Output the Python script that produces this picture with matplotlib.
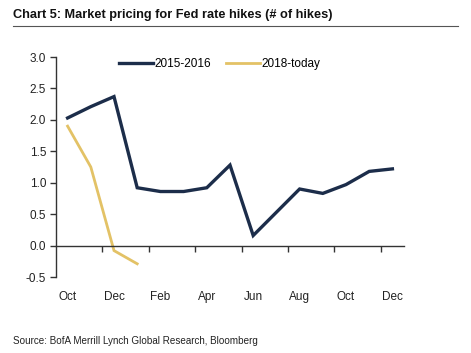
import matplotlib
matplotlib.use("Agg")
import matplotlib.pyplot as plt
import numpy as np

months = ["Oct", "Nov", "Dec", "Jan", "Feb", "Mar", "Apr", "May",
          "Jun", "Jul", "Aug", "Sep", "Oct", "Nov", "Dec"]
hikes_2015_2016 = [2.03, 2.21, 2.37, 0.92, 0.86, 0.86, 0.92, 1.28,
                   0.16, 0.53, 0.90, 0.83, 0.97, 1.18, 1.22]
hikes_2018_today = [1.90, 1.25, -0.08, -0.29]
yticks = [-0.5, 0.0, 0.5, 1.0, 1.5, 2.0, 2.5, 3.0]

plt.rcParams['font.family'] = ['Liberation Sans', 'DejaVu Sans']

navy = "#1c2d4a"
gold = "#e3c266"
axcol = "#333333"

fig = plt.figure(figsize=(4.71, 3.53), dpi=100)
ax = fig.add_axes([56/471, 1-277/353, (404-56)/471, (277-57)/353])

x = np.arange(len(months))
ax.plot(x, hikes_2015_2016, color=navy, lw=2.4, label="2015-2016",
        solid_joinstyle="miter")
ax.plot(x[:len(hikes_2018_today)], hikes_2018_today, color=gold, lw=2.0,
        label="2018-today", solid_joinstyle="miter")

ax.set_xlim(-0.5, len(months) - 0.5)
ax.set_ylim(-0.5, 3.0)
ax.set_yticks(yticks)
ax.set_yticklabels([f"{v:.1f}" for v in yticks])

for s in ["top", "right"]:
    ax.spines[s].set_visible(False)
ax.spines["left"].set_color(axcol)
ax.spines["left"].set_linewidth(1.0)
ax.spines["bottom"].set_position(("data", 0))
ax.spines["bottom"].set_color(axcol)
ax.spines["bottom"].set_linewidth(1.0)

ax.set_xticks(x[::2])
ax.set_xticklabels(months[::2])
ax.set_xticks(np.arange(1.5, len(months) - 1, 2), minor=True)
ax.tick_params(axis="x", which="major", length=0, pad=33, labelsize=8.5,
               colors="#222222")
ax.tick_params(axis="x", which="minor", length=4, direction="out",
               color=axcol, width=1.0)
ax.tick_params(axis="y", length=4, direction="out", color=axcol, width=1.0,
               labelsize=8.5, labelcolor="#222222", pad=3)

leg = ax.legend(loc="upper center", bbox_to_anchor=(0.47, 1.045), ncol=2,
                frameon=False, fontsize=8.5, handlelength=2.9,
                handletextpad=0.1, columnspacing=1.3)

fig.text(13/471, 1-15/353, "Chart 5: Market pricing for Fed rate hikes (# of hikes)",
         fontsize=9.2, fontweight="bold", va="center", ha="left",
         family=["Liberation Sans Narrow", "Liberation Sans", "DejaVu Sans"],
         color="#111111")
fig.add_artist(plt.Line2D([13/471, 458/471], [1-26/353, 1-26/353],
                          color="#555555", lw=0.8))
fig.text(13/471, 1-341/353, "Source: BofA Merrill Lynch Global Research, Bloomberg",
         fontsize=7.1, va="center", ha="left", color="#222222",
         family=["Liberation Sans Narrow", "Liberation Sans", "DejaVu Sans"])

fig.savefig("out.png", dpi=100)
